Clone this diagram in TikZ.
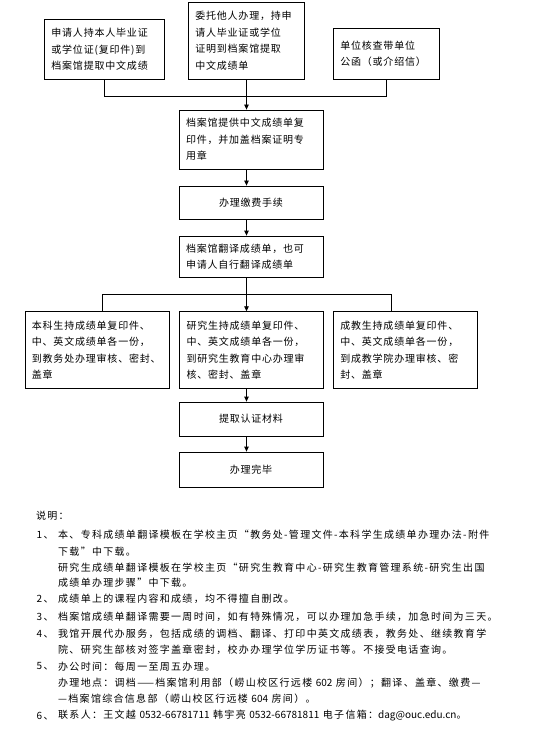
\documentclass[tikz,border=0pt]{standalone}
\usepackage{fontspec}
\setmainfont{Noto Sans CJK SC}
\newfontfamily\boxfont[LetterSpace=8]{Noto Sans CJK SC}
\newfontfamily\notefont[LetterSpace=13]{Noto Sans CJK SC}
\newfontfamily\latfont{Noto Sans CJK SC}
\usetikzlibrary{arrows.meta}
\begin{document}
\begin{tikzpicture}[x=1pt,y=-1pt,
  box/.style={draw, line width=0.8pt, inner ysep=0pt, inner xsep=7pt, align=left,
    font=\boxfont\fontsize{10}{16.5}\selectfont},
  cbox/.style={box, align=center},
  arr/.style={line width=0.8pt, -{Triangle[length=5pt,width=4.5pt]}},
  conn/.style={line width=0.8pt},
  note/.style={anchor=west, inner sep=0pt, font=\notefont\fontsize{10}{12}\selectfont}]
\useasboundingbox (0,0) rectangle (535,735);
\fill[white] (0,0) rectangle (535,735);

% top row
\node[box, minimum width=120.4pt, minimum height=59.4pt, text width=106.4pt] (A) at (104.6,49.5)
  {申请人持本人毕业证\\或学位证(复印件)到\\档案馆提取中文成绩};
\node[box, minimum width=116.4pt, minimum height=76.5pt, text width=102.4pt] (B) at (246.5,40.95)
  {委托他人办理，持申\\请人毕业证或学位\\证明到档案馆提取\\中文成绩单};
\node[box, minimum width=105.8pt, minimum height=51.2pt, text width=91.8pt] (C) at (386.2,53.6)
  {单位核查带单位\\公函（或介绍信）};

% middle column
\node[box, minimum width=144pt, minimum height=59pt, text width=130pt] (D) at (251,139.5)
  {档案馆提供中文成绩单复\\印件，并加盖档案证明专\\用章};
\node[cbox, minimum width=144pt, minimum height=33pt, text width=130pt] (E) at (251,202.5)
  {办理缴费手续};
\node[box, minimum width=144pt, minimum height=41pt, text width=130pt] (F) at (251,256.5)
  {档案馆翻译成绩单，也可\\申请人自行翻译成绩单};

% second row
\node[box, minimum width=144.7pt, minimum height=76.8pt, text width=130.7pt] (G) at (97.25,350.1)
  {本科生持成绩单复印件、\\中、英文成绩单各一份，\\到教务处办理审核、密封、\\盖章};
\node[box, minimum width=143.9pt, minimum height=76.8pt, text width=129.9pt] (H) at (251.45,350.1)
  {研究生持成绩单复印件、\\中、英文成绩单各一份，\\到研究生教育中心办理审\\核、密封、盖章};
\node[box, minimum width=144.3pt, minimum height=76.8pt, text width=130.3pt] (I) at (405.45,350.1)
  {成教生持成绩单复印件、\\中、英文成绩单各一份，\\到成教学院办理审核、密\\封、盖章};

\node[cbox, minimum width=144pt, minimum height=34pt, text width=130pt] (J) at (251,419)
  {提取认证材料};
\node[cbox, minimum width=144pt, minimum height=35pt, text width=130pt] (K) at (251,469.5)
  {办理完毕};

% connectors
\draw[conn] (A.south) -- ++(0,17) -| (C.south);
\draw[arr] (B.south) -- (B.south |- D.north);
\draw[arr] (D.south -| B.south) -- (E.north -| B.south);
\draw[arr] (E.south -| B.south) -- (F.north -| B.south);
\coordinate (bl) at (102.4,294.3);
\coordinate (brr) at (391.3,294.3);
\draw[conn] (G.north -| bl) -- (bl) -- (brr) -- (I.north -| brr);
\draw[arr] (F.south -| B.south) -- (H.north -| B.south);
\draw[arr] (H.south -| B.south) -- (J.north -| B.south);
\draw[arr] (J.south -| B.south) -- (K.north -| B.south);

% notes
\node[note] (n0) at (35.8,515.4) {说明：};
\node[note] (n1) at (36.5,535.1) {1、};
\node[note] (t1a) at (58,535.1) {本、专科成绩单翻译模板在学校主页“教务处-管理文件-本科学生成绩单办理办法-附件};
\node[note] (t1b) at (58,551.2) {下载”中下载。};
\node[note] (t1c) at (58,567.2) {研究生成绩单翻译模板在学校主页“研究生教育中心-研究生教育管理系统-研究生出国};
\node[note] (t1d) at (58,582.9) {成绩单办理步骤”中下载。};
\node[note] (n2) at (36.5,598.9) {2、};
\node[note] (t2) at (58,598.9) {成绩单上的课程内容和成绩，均不得擅自删改。};
\node[note] (n3) at (36.5,616.8) {3、};
\node[note] (t3) at (58,616.8) {档案馆成绩单翻译需要一周时间，如有特殊情况，可以办理加急手续，加急时间为三天。};
\node[note] (n4) at (36.5,633.9) {4、};
\node[note] (t4a) at (58,633.9) {我馆开展代办服务，包括成绩的调档、翻译、打印中英文成绩表，教务处、继续教育学};
\node[note] (t4b) at (58,649.9) {院、研究生部核对签字盖章密封，校办办理学位学历证书等。不接受电话查询。};
\node[note] (n5) at (36.5,666.3) {5、};
\node[note] (t5a) at (58,666.3) {办公时间：每周一至周五办理。};
\node[note] (t5b) at (58,683.4) {办理地点：调档——档案馆利用部（崂山校区行远楼 {\latfont 602} 房间）；翻译、盖章、缴费—};
\node[note] (t5c) at (58,698.7) {—档案馆综合信息部（崂山校区行远楼 {\latfont 604} 房间）。};
\node[note] (n6) at (36.5,715.8) {6、};
\node[note] (t6) at (58,715.8) {联系人：王文越 {\latfont 0532-66781711} 韩宇亮 {\latfont 0532-66781811} 电子信箱：{\latfont dag@ouc.edu.cn}。};
\end{tikzpicture}
\end{document}
